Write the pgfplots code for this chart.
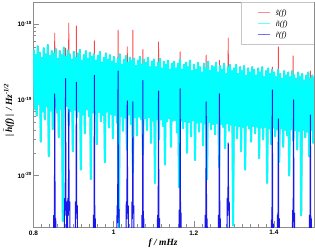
\documentclass[border=0pt]{standalone}
\usepackage{fontspec}
\setmainfont{Liberation Serif}
\setsansfont{Liberation Sans}
\usepackage{pgfplots}
\usepackage{pgfplotstable}
\pgfplotsset{compat=1.18}
\definecolor{ncyan}{RGB}{0,255,255}
\definecolor{nhalo}{RGB}{130,195,195}
\definecolor{sred}{RGB}{255,70,70}
\definecolor{rblue}{RGB}{25,25,235}
\definecolor{framegray}{RGB}{140,140,140}

% noise spectrum |n(f)|
\pgfplotstableread{
f n
0.8000 46e-20
0.8025 7.5e-20
0.8050 39e-20
0.8075 6.2e-20
0.8100 51e-20
0.8125 8.8e-20
0.8150 42e-20
0.8175 2.8e-20
0.8200 36e-20
0.8225 7.0e-20
0.8250 48e-20
0.8275 5.5e-20
0.8300 40e-20
0.8325 8.2e-20
0.8350 53e-20
0.8375 1.8e-20
0.8400 38e-20
0.8425 7.2e-20
0.8450 44e-20
0.8475 4.1e-20
0.8500 41e-20
0.8525 8.0e-20
0.8550 47e-20
0.8575 6.8e-20
0.8600 35e-20
0.8625 3.2e-20
0.8650 44e-20
0.8675 7.6e-20
0.8700 39e-20
0.8725 0.25e-20
0.8750 49e-20
0.8775 7.7e-20
0.8800 37e-20
0.8825 8.3e-20
0.8850 45e-20
0.8875 4.6e-20
0.8900 40e-20
0.8925 7.1e-20
0.8950 34e-20
0.8975 2.1e-20
0.9000 43e-20
0.9025 7.4e-20
0.9050 36e-20
0.9075 5.9e-20
0.9100 41e-20
0.9125 7.0e-20
0.9150 46e-20
0.9175 1.2e-20
0.9200 33e-20
0.9225 6.4e-20
0.9250 39e-20
0.9275 3.6e-20
0.9300 44e-20
0.9325 7.5e-20
0.9350 35e-20
0.9375 6.1e-20
0.9400 42e-20
0.9425 0.9e-20
0.9450 37e-20
0.9475 6.8e-20
0.9500 40e-20
0.9525 6.6e-20
0.9550 33e-20
0.9575 2.6e-20
0.9600 38e-20
0.9625 6.9e-20
0.9650 43e-20
0.9675 5.2e-20
0.9700 31e-20
0.9725 6.3e-20
0.9750 36e-20
0.9775 1.5e-20
0.9800 41e-20
0.9825 7.0e-20
0.9850 34e-20
0.9875 4.3e-20
0.9900 39e-20
0.9925 6.5e-20
0.9950 32e-20
0.9975 3.1e-20
1.0000 37e-20
1.0025 6.3e-20
1.0050 30e-20
1.0075 5.0e-20
1.0100 35e-20
1.0125 0.2e-20
1.0150 40e-20
1.0175 6.1e-20
1.0200 29e-20
1.0225 3.9e-20
1.0250 34e-20
1.0275 5.8e-20
1.0300 38e-20
1.0325 2.2e-20
1.0350 31e-20
1.0375 6.4e-20
1.0400 36e-20
1.0425 4.8e-20
1.0450 33e-20
1.0475 1.1e-20
1.0500 35e-20
1.0525 5.9e-20
1.0550 28e-20
1.0575 3.4e-20
1.0600 33e-20
1.0625 6.0e-20
1.0650 37e-20
1.0675 5.6e-20
1.0700 29e-20
1.0725 1.9e-20
1.0750 34e-20
1.0775 5.7e-20
1.0800 31e-20
1.0825 4.0e-20
1.0850 36e-20
1.0875 5.9e-20
1.0900 27e-20
1.0925 2.7e-20
1.0950 32e-20
1.0975 5.3e-20
1.1000 34e-20
1.1025 0.8e-20
1.1050 27e-20
1.1075 5.6e-20
1.1100 31e-20
1.1125 3.0e-20
1.1150 35e-20
1.1175 5.5e-20
1.1200 26e-20
1.1225 4.5e-20
1.1250 32e-20
1.1275 1.4e-20
1.1300 29e-20
1.1325 5.2e-20
1.1350 33e-20
1.1375 5.7e-20
1.1400 25e-20
1.1425 2.4e-20
1.1450 30e-20
1.1475 5.3e-20
1.1500 32e-20
1.1525 5.4e-20
1.1550 26e-20
1.1575 3.7e-20
1.1600 30e-20
1.1625 0.7e-20
1.1650 34e-20
1.1675 5.3e-20
1.1700 25e-20
1.1725 4.2e-20
1.1750 29e-20
1.1775 5.2e-20
1.1800 31e-20
1.1825 2.0e-20
1.1850 27e-20
1.1875 5.1e-20
1.1900 33e-20
1.1925 3.3e-20
1.1950 24e-20
1.1975 5.4e-20
1.2000 29e-20
1.2025 1.6e-20
1.2050 25e-20
1.2075 5.0e-20
1.2100 31e-20
1.2125 3.8e-20
1.2150 27e-20
1.2175 5.1e-20
1.2200 23e-20
1.2225 2.5e-20
1.2250 30e-20
1.2275 4.9e-20
1.2300 26e-20
1.2325 0.9e-20
1.2350 32e-20
1.2375 5.1e-20
1.2400 24e-20
1.2425 4.1e-20
1.2450 28e-20
1.2475 4.8e-20
1.2500 27e-20
1.2525 3.5e-20
1.2550 31e-20
1.2575 4.9e-20
1.2600 23e-20
1.2625 1.3e-20
1.2650 28e-20
1.2675 4.8e-20
1.2700 25e-20
1.2725 4.4e-20
1.2750 30e-20
1.2775 2.3e-20
1.2800 22e-20
1.2825 4.9e-20
1.2850 27e-20
1.2875 3.9e-20
1.2900 29e-20
1.2925 4.7e-20
1.2950 24e-20
1.2975 0.22e-20
1.3000 26e-20
1.3025 4.6e-20
1.3050 29e-20
1.3075 3.1e-20
1.3100 22e-20
1.3125 4.5e-20
1.3150 27e-20
1.3175 2.1e-20
1.3200 24e-20
1.3225 4.4e-20
1.3250 28e-20
1.3275 1.2e-20
1.3300 21e-20
1.3325 4.6e-20
1.3350 26e-20
1.3375 4.2e-20
1.3400 23e-20
1.3425 2.8e-20
1.3450 27e-20
1.3475 4.5e-20
1.3500 25e-20
1.3525 3.6e-20
1.3550 21e-20
1.3575 4.4e-20
1.3600 26e-20
1.3625 1.7e-20
1.3650 23e-20
1.3675 4.3e-20
1.3700 27e-20
1.3725 3.0e-20
1.3750 20e-20
1.3775 4.4e-20
1.3800 24e-20
1.3825 0.8e-20
1.3850 26e-20
1.3875 4.2e-20
1.3900 22e-20
1.3925 2.6e-20
1.3950 25e-20
1.3975 4.3e-20
1.4000 23e-20
1.4025 3.3e-20
1.4050 20e-20
1.4075 4.1e-20
1.4100 25e-20
1.4125 1.5e-20
1.4150 22e-20
1.4175 4.2e-20
1.4200 19e-20
1.4225 2.4e-20
1.4250 24e-20
1.4275 4.0e-20
1.4300 21e-20
1.4325 3.4e-20
1.4350 23e-20
1.4375 1.0e-20
1.4400 20e-20
1.4425 4.1e-20
1.4450 24e-20
1.4475 2.9e-20
1.4500 21e-20
1.4525 4.0e-20
1.4550 19e-20
1.4575 2.2e-20
1.4600 23e-20
1.4625 3.9e-20
1.4650 20e-20
1.4675 0.3e-20
1.4700 22e-20
1.4725 4.0e-20
1.4750 18e-20
1.4775 3.2e-20
1.4800 21e-20
1.4825 3.8e-20
1.4850 23e-20
1.4875 1.8e-20
1.4900 19e-20
1.4925 4.0e-20
1.4950 21e-20
1.4975 2.7e-20
1.5000 20e-20
}\noisetab

\begin{document}
\begin{tikzpicture}
\begin{axis}[
  at={(0,0)}, anchor=south west,
  scale only axis, width=280.5bp, height=225bp,
  xmin=0.8, xmax=1.5,
  ymode=log, ymin=2.1e-21, ymax=1.95e-18,
  axis line style={framegray, line width=0.6bp},
  tick style={framegray, line width=0.5bp},
  tick align=inside, tick pos=left,
  major tick length=6bp, minor tick length=3bp,
  xtick={0.8,1,1.2,1.4}, xticklabels={0.8,1,1.2,1.4},
  minor x tick num=9,
  ytick={1e-20,1e-19,1e-18},
  yticklabels={10\textsuperscript{-20},10\textsuperscript{-19},10\textsuperscript{-18}},
  tick label style={font=\sffamily\bfseries\fontsize{6.5}{7}\selectfont},
  yticklabel style={inner sep=1.5bp},
  xlabel={\bfseries\itshape f / mHz},
  xlabel style={at={(axis description cs:0.462,-0.071)}, anchor=center, font=\fontsize{9.5}{11}\selectfont},
  ylabel={\bfseries\itshape |\,$\tilde{\mbox{\bfseries\itshape h}}$(f)\,|\, / Hz\textsuperscript{-1/2}},
  ylabel style={at={(axis description cs:-0.088,0.52)}, anchor=center, font=\fontsize{9.5}{11}\selectfont},
  legend image code/.code={\draw[#1, opacity=0.6, line width=0.8bp] (0bp,0bp) -- (12bp,0bp);},
  legend cell align=left,
  legend style={at={(axis description cs:0.80,0.972)}, anchor=north west,
    draw=none, fill=none, inner sep=0pt, row sep=2.5bp,
    font=\fontsize{8}{9}\selectfont\itshape,
    nodes={inner sep=0pt, text height=6.5bp, text depth=2bp},
    /tikz/every odd column/.append style={column sep=5bp}},
  every axis plot/.append style={line join=round},
]
% signal s(f): only the lines standing above the noise band are visible
\addplot[sred, line width=0.9bp] coordinates {
(0.800,2.2e-19)
(0.8525,2.1e-19) (0.853,7.6e-19) (0.8535,2.1e-19)
(0.8795,2e-19) (0.880,4.8e-19) (0.8805,2e-19)
(0.8875,2e-19) (0.888,1.03e-18) (0.8885,2e-19)
(0.9065,1.9e-19) (0.907,9.4e-19) (0.9075,1.9e-19)
(0.9515,1.8e-19) (0.952,6.0e-19) (0.9525,1.8e-19)
(1.0105,1.6e-19) (1.011,8.3e-19) (1.0115,1.6e-19)
(1.0335,1.6e-19) (1.034,5.0e-19) (1.0345,1.6e-19)
(1.0475,1.5e-19) (1.048,8.3e-19) (1.0485,1.5e-19)
(1.0725,1.5e-19) (1.073,4.6e-19) (1.0735,1.5e-19)
(1.1115,1.4e-19) (1.112,5.8e-19) (1.1125,1.4e-19)
(1.1655,1.35e-19) (1.166,4.3e-19) (1.1665,1.35e-19)
(1.2305,1.3e-19) (1.231,3.9e-19) (1.2315,1.3e-19)
(1.2635,1.2e-19) (1.264,3.3e-19) (1.2645,1.2e-19)
(1.2855,1.2e-19) (1.286,6.5e-19) (1.2865,1.2e-19)
(1.3955,1.1e-19) (1.396,2.7e-19) (1.3965,1.1e-19)
(1.4105,1.05e-19) (1.411,5.0e-19) (1.4115,1.05e-19)
(1.4475,1e-19) (1.448,3.8e-19) (1.4485,1e-19)
(1.4905,1e-19) (1.491,2.4e-19) (1.4915,1e-19)
(1.500,1e-19)
};
\addlegendentry{s̃(f)}
% noise n(f): grey rim, then cyan (stroked twice, half a pixel apart, to close the gaps)
\addplot[nhalo, line width=2.0bp, xshift=0.25bp, forget plot] table[x=f, y=n] {\noisetab};
\addplot[ncyan, line width=1.2bp] table[x=f, y=n] {\noisetab};
\addlegendentry{ñ(f)}
\addplot[ncyan, line width=1.2bp, xshift=0.5bp, forget plot] table[x=f, y=n] {\noisetab};
% r(f)
\addplot[rblue, line width=1bp] coordinates {
(0.800,1e-22)
(0.849,1e-22)(0.8505,3e-21)(0.852,1.8e-21)(0.853,1.2e-19)(0.854,2.1e-21)(0.8555,2.7e-21)(0.857,1e-22)
(0.876,1e-22)(0.8775,5e-21)(0.879,3e-21)(0.880,1.9e-19)(0.881,3.5e-21)(0.8825,4.5e-21)(0.884,1e-22)
(0.8855,5e-21)(0.887,3e-21)(0.888,7.4e-20)(0.889,3.5e-21)(0.8905,4.5e-21)(0.892,1e-22)
(0.903,1e-22)(0.9045,4.5e-21)(0.906,2.7e-21)(0.907,1.7e-19)(0.908,3.2e-21)(0.9095,4e-21)(0.911,1e-22)
(0.948,1e-22)(0.9495,3e-21)(0.951,1.8e-21)(0.952,2.1e-19)(0.953,2.1e-21)(0.9545,2.7e-21)(0.956,1e-22)
(1.007,1e-22)(1.0085,4e-21)(1.010,2.4e-21)(1.011,2.4e-19)(1.012,2.8e-21)(1.0135,3.6e-21)(1.015,1e-22)
(1.030,1e-22)(1.0315,4.5e-21)(1.033,2.7e-21)(1.034,9.7e-20)(1.035,3.2e-21)(1.0365,4e-21)(1.038,1e-22)
(1.044,1e-22)(1.0455,4.5e-21)(1.047,2.7e-21)(1.048,9.4e-20)(1.049,3.2e-21)(1.0505,4e-21)(1.052,1e-22)
(1.069,1e-22)(1.0705,3e-21)(1.072,1.8e-21)(1.073,1.8e-19)(1.074,2.1e-21)(1.0755,2.7e-21)(1.077,1e-22)
(1.108,1e-22)(1.1095,3e-21)(1.111,1.8e-21)(1.112,1.3e-19)(1.113,2.1e-21)(1.1145,2.7e-21)(1.116,1e-22)
(1.162,1e-22)(1.1635,3.5e-21)(1.165,2.1e-21)(1.166,1.4e-19)(1.167,2.5e-21)(1.1685,3.2e-21)(1.170,1e-22)
(1.227,1e-22)(1.2285,3e-21)(1.230,1.8e-21)(1.231,9.4e-20)(1.232,2.1e-21)(1.2335,2.7e-21)(1.235,1e-22)
(1.260,1e-22)(1.2615,3e-21)(1.263,1.8e-21)(1.264,1.2e-19)(1.265,2.1e-21)(1.2665,2.7e-21)(1.268,1e-22)
(1.282,1e-22)(1.2835,5e-21)(1.285,3e-21)(1.286,2.7e-20)(1.287,3.5e-21)(1.2885,4.5e-21)(1.290,1e-22)
(1.392,1e-22)(1.3935,2.6e-21)(1.395,1.6e-21)(1.396,1.35e-19)(1.397,1.8e-21)(1.3985,2.3e-21)(1.400,1e-22)
(1.407,1e-22)(1.4085,3e-21)(1.410,1.8e-21)(1.411,5.6e-20)(1.412,2.1e-21)(1.4135,2.7e-21)(1.415,1e-22)
(1.445,1e-22)(1.4465,3.5e-21)(1.448,2.1e-21)(1.449,1e-19)(1.450,2.5e-21)(1.4515,3.2e-21)(1.453,1e-22)
(1.487,1e-22)(1.4885,3e-21)(1.490,1.8e-21)(1.491,6.3e-20)(1.492,2.1e-21)(1.4935,2.7e-21)(1.495,1e-22)
(1.500,1e-22)
};
\addlegendentry{r̃(f)}
\draw[gray!45, line width=0.5bp, fill=white] (rel axis cs:0.74,0.813) rectangle (rel axis cs:1,1);
\end{axis}
\pgfresetboundingbox
\path[use as bounding box] (-33.5bp,-21bp) rectangle (281.5bp,227bp);
\end{tikzpicture}
\end{document}
